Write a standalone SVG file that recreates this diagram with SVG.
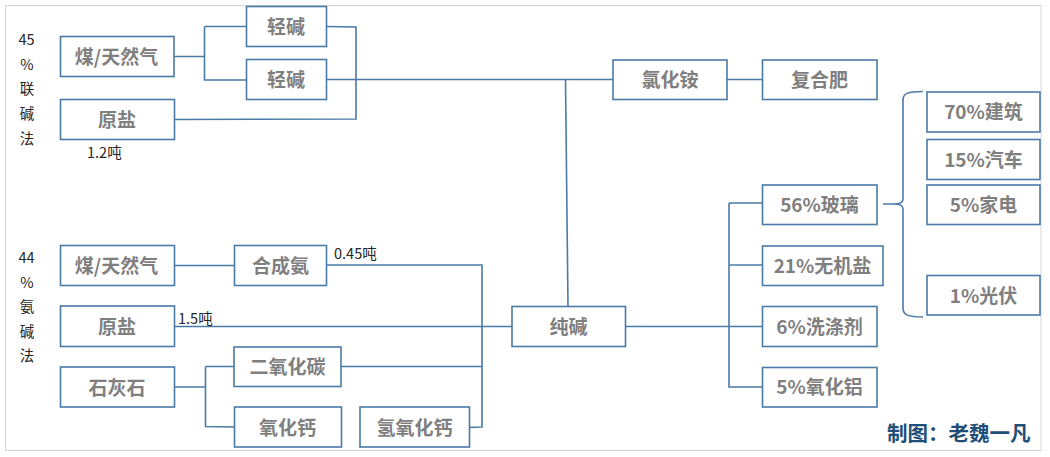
<svg xmlns="http://www.w3.org/2000/svg" width="1050" height="457" viewBox="0 0 1050 457">
<style>
.b{fill:#fff;stroke:#4a7ba7;stroke-width:1.6}
.c{fill:none;stroke:#4a7ba7;stroke-width:1.6}
.t{font-family:"Noto Sans CJK SC","Noto Sans",sans-serif;font-size:19px;font-weight:700;fill:#7f7f7f;text-anchor:middle}
.s{font-family:"Noto Sans CJK SC","Noto Sans",sans-serif;font-size:14.500px;fill:#262626}
.v{text-anchor:middle}
</style>
<rect x="5.500" y="5.500" width="1035.500" height="445" fill="#fff" stroke="#d4d4d4" stroke-width="1"/>
<g id="connectors" class="c">
<path d="M174 56.500H204.500M204.500 26.500H246.500M204.500 26.500V80H246.500"/>
<path d="M326 26.500L356 27V119L175 119.500"/>
<path d="M326 79.500H613"/>
<path d="M565.500 79.500L568 306"/>
<path d="M727 79.500H762.500"/>
<path d="M174 265.500H234.500"/>
<path d="M326 265H482V427L469 427.500"/>
<path d="M174 326.500H512"/>
<path d="M341 366.500H482"/>
<path d="M174 387H205.500M205.500 366.500H234M205.500 366.500V426.500L234.500 427"/>
<path d="M625 326.500H762.500"/>
<path d="M729 203H762.500M729 203V387H765M729 265H762.500"/>
<path d="M883 204H894C899 204 903 203 903 199V100C903 93 908 91.500 923 91.500M894 204C899 204 903 205 903 209V308C903 315 908 317 923 317"/>
</g>
<g id="n1"><rect class="b" x="60.500" y="36.500" width="113.500" height="40"/><text class="t" x="116.500" y="64">煤/天然气</text></g>
<g id="n2"><rect class="b" x="246.500" y="6.500" width="80" height="40"/><text class="t" x="286" y="34">轻碱</text></g>
<g id="n3"><rect class="b" x="246.500" y="59.500" width="80" height="40"/><text class="t" x="286" y="87">轻碱</text></g>
<g id="n4"><rect class="b" x="60.500" y="99.500" width="114" height="40"/><text class="t" x="117" y="127">原盐</text></g>
<g id="n5"><rect class="b" x="613" y="60" width="114" height="39.500"/><text class="t" x="670" y="87">氯化铵</text></g>
<g id="n6"><rect class="b" x="762.500" y="60" width="114.500" height="39.500"/><text class="t" x="819.500" y="87">复合肥</text></g>
<g id="n7"><rect class="b" x="60.500" y="245.500" width="114" height="40"/><text class="t" x="116.500" y="273">煤/天然气</text></g>
<g id="n8"><rect class="b" x="234.500" y="245.500" width="92" height="40"/><text class="t" x="280.500" y="273">合成氨</text></g>
<g id="n9"><rect class="b" x="60.500" y="306" width="114" height="40.500"/><text class="t" x="117" y="334">原盐</text></g>
<g id="n10"><rect class="b" x="60.500" y="367" width="114" height="40"/><text class="t" x="117" y="395">石灰石</text></g>
<g id="n11"><rect class="b" x="234" y="347" width="107" height="39.500"/><text class="t" x="287.500" y="374">二氧化碳</text></g>
<g id="n12"><rect class="b" x="234.500" y="407" width="107" height="40"/><text class="t" x="287.500" y="435">氧化钙</text></g>
<g id="n13"><rect class="b" x="360" y="407" width="109.500" height="40"/><text class="t" x="414.500" y="435">氢氧化钙</text></g>
<g id="n14"><rect class="b" x="512" y="306.500" width="113.500" height="40"/><text class="t" x="568.500" y="334">纯碱</text></g>
<g id="n15"><rect class="b" x="762.500" y="185" width="114.500" height="39.500"/><text class="t" x="819.500" y="212">56%玻璃</text></g>
<g id="n16"><rect class="b" x="762.500" y="246" width="120.500" height="39.500"/><text class="t" x="822.500" y="273">21%无机盐</text></g>
<g id="n17"><rect class="b" x="762.500" y="306.500" width="114.500" height="40"/><text class="t" x="819.500" y="334">6%洗涤剂</text></g>
<g id="n18"><rect class="b" x="762.500" y="367.500" width="114.500" height="39.500"/><text class="t" x="819.500" y="394">5%氧化铝</text></g>
<g id="n19"><rect class="b" x="927" y="92" width="113" height="40"/><text class="t" x="983.500" y="119">70%建筑</text></g>
<g id="n20"><rect class="b" x="927" y="139.500" width="113" height="40"/><text class="t" x="983.500" y="166.500">15%汽车</text></g>
<g id="n21"><rect class="b" x="927" y="185" width="113" height="39.500"/><text class="t" x="983.500" y="212">5%家电</text></g>
<g id="n22"><rect class="b" x="927" y="275.500" width="113" height="39.500"/><text class="t" x="983.500" y="303">1%光伏</text></g>
<g id="labels">
<g class="s v"><text x="26.500" y="45">45</text><text x="27" y="70">%</text><text x="27" y="94">联</text><text x="27" y="119">碱</text><text x="27" y="144">法</text></g>
<g class="s v"><text x="26.500" y="263">44</text><text x="27" y="288">%</text><text x="27" y="312">氨</text><text x="27" y="337">碱</text><text x="27" y="361">法</text></g>
<text class="s" x="87" y="158">1.2吨</text>
<text class="s" x="334" y="259">0.45吨</text>
<text class="s" x="178" y="324">1.5吨</text>
<text x="887" y="441" font-family="'Noto Sans CJK SC',serif" font-size="20.500px" font-weight="700" fill="#1f4e79">制图：老魏一凡</text>
</g>
</svg>
